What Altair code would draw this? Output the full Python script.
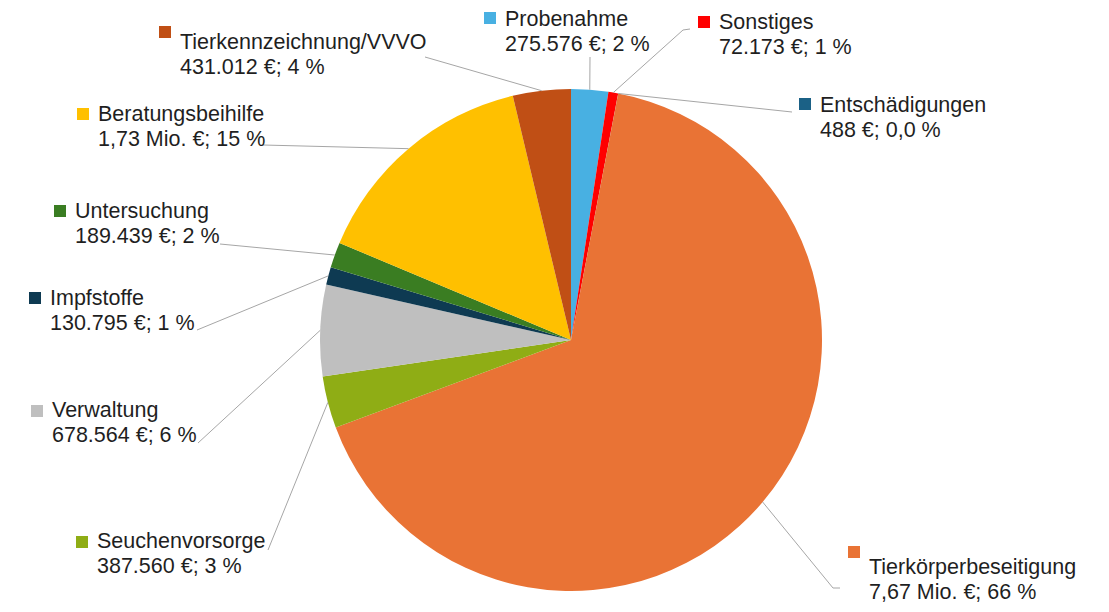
import math
import altair as alt
import pandas as pd

# ---- data ----
categories = ["Probenahme", "Sonstiges", "Entschädigungen", "Tierkörperbeseitigung",
              "Seuchenvorsorge", "Verwaltung", "Impfstoffe", "Untersuchung",
              "Beratungsbeihilfe", "Tierkennzeichnung/VVVO"]
values = [275576, 72173, 488, 7670000, 387560, 678564, 130795, 189439, 1730000, 431012]
value_labels = ["275.576 €; 2 %", "72.173 €; 1 %", "488 €; 0,0 %", "7,67 Mio. €; 66 %",
                "387.560 €; 3 %", "678.564 €; 6 %", "130.795 €; 1 %", "189.439 €; 2 %",
                "1,73 Mio. €; 15 %", "431.012 €; 4 %"]
colors = ["#48B0E2", "#FF0000", "#1B6186", "#E97335", "#8FAD15", "#BFBFBF",
          "#0E3A52", "#3A7D22", "#FFC000", "#C04F15"]

# ---- layout (page pixels) ----
M = 8
W, H = 1093, 596
CX, CY, R = 571, 340, 251
label_x = [505, 719, 820, 869, 97, 52, 50, 75, 98, 180]
label_y1 = [26, 29, 112, 574, 548, 417, 305, 218, 121, 49]
square_top = [12, 16, 98, 546, 536, 405, 292, 205, 108, 26]
leader_end = [(590, 57), (690, 29), (792, 112), (840, 588), (268, 550),
              (198, 443), (197, 330), (220, 244), (263, 145), (425, 57)]
leader_elbow = [None, (683, 30), None, (833, 588), None, None, None, None, None, None]
LINE_GAP = 25
FONT = "Liberation Sans"
FS = 21.5

total = sum(values)
slices = pd.DataFrame({"cat": categories, "value": values, "col": colors,
                       "idx": list(range(len(categories)))})

# leader lines
rows = []
cum = 0.0
for i, v in enumerate(values):
    mid = (cum + v / 2) / total * 2 * math.pi
    cum += v
    px = CX + R * math.sin(mid)
    py = CY - R * math.cos(mid)
    pts = [(px, py)]
    if leader_elbow[i] is not None:
        pts.append(leader_elbow[i])
    pts.append(leader_end[i])
    for s, (x, y) in enumerate(pts):
        rows.append({"cat": categories[i], "seq": s, "x": x - M, "y": y - M})
lines = pd.DataFrame(rows)

labels = pd.DataFrame({
    "cat": categories,
    "val": value_labels,
    "col": colors,
    "tx": [x - M for x in label_x],
    "y1": [y - M for y in label_y1],
    "y2": [y - M + LINE_GAP for y in label_y1],
    "sx": [x - M - 21 for x in label_x],
    "sx2": [x - M - 9 for x in label_x],
    "sy": [y - M for y in square_top],
    "sy2": [y - M + 12 for y in square_top],
})

pie = alt.Chart(slices).mark_arc(outerRadius=R, x=CX - M, y=CY - M, strokeWidth=0).encode(
    theta=alt.Theta("value:Q", stack=True),
    color=alt.Color("col:N", scale=None),
    order=alt.Order("idx:Q"),
)

leaders = alt.Chart(lines).mark_line(color="#A6A6A6", strokeWidth=1).encode(
    x=alt.X("x:Q", scale=None, axis=None),
    y=alt.Y("y:Q", scale=None, axis=None),
    detail="cat:N",
    order="seq:Q",
)

squares = alt.Chart(labels).mark_rect().encode(
    x=alt.X("sx:Q", scale=None, axis=None), x2="sx2:Q",
    y=alt.Y("sy:Q", scale=None, axis=None), y2="sy2:Q",
    color=alt.Color("col:N", scale=None),
)

name_text = alt.Chart(labels).mark_text(
    align="left", baseline="alphabetic", font=FONT, fontSize=FS, color="#1f1f1f"
).encode(
    x=alt.X("tx:Q", scale=None, axis=None),
    y=alt.Y("y1:Q", scale=None, axis=None),
    text="cat:N",
)

val_text = alt.Chart(labels).mark_text(
    align="left", baseline="alphabetic", font=FONT, fontSize=FS, color="#1f1f1f"
).encode(
    x=alt.X("tx:Q", scale=None, axis=None),
    y=alt.Y("y2:Q", scale=None, axis=None),
    text="val:N",
)

chart = alt.layer(pie, leaders, squares, name_text, val_text).properties(
    width=W, height=H, padding=0, autosize="none", background="white"
).configure_view(stroke=None)

chart.save("out.html", embed_options={"renderer": "svg", "actions": False})
